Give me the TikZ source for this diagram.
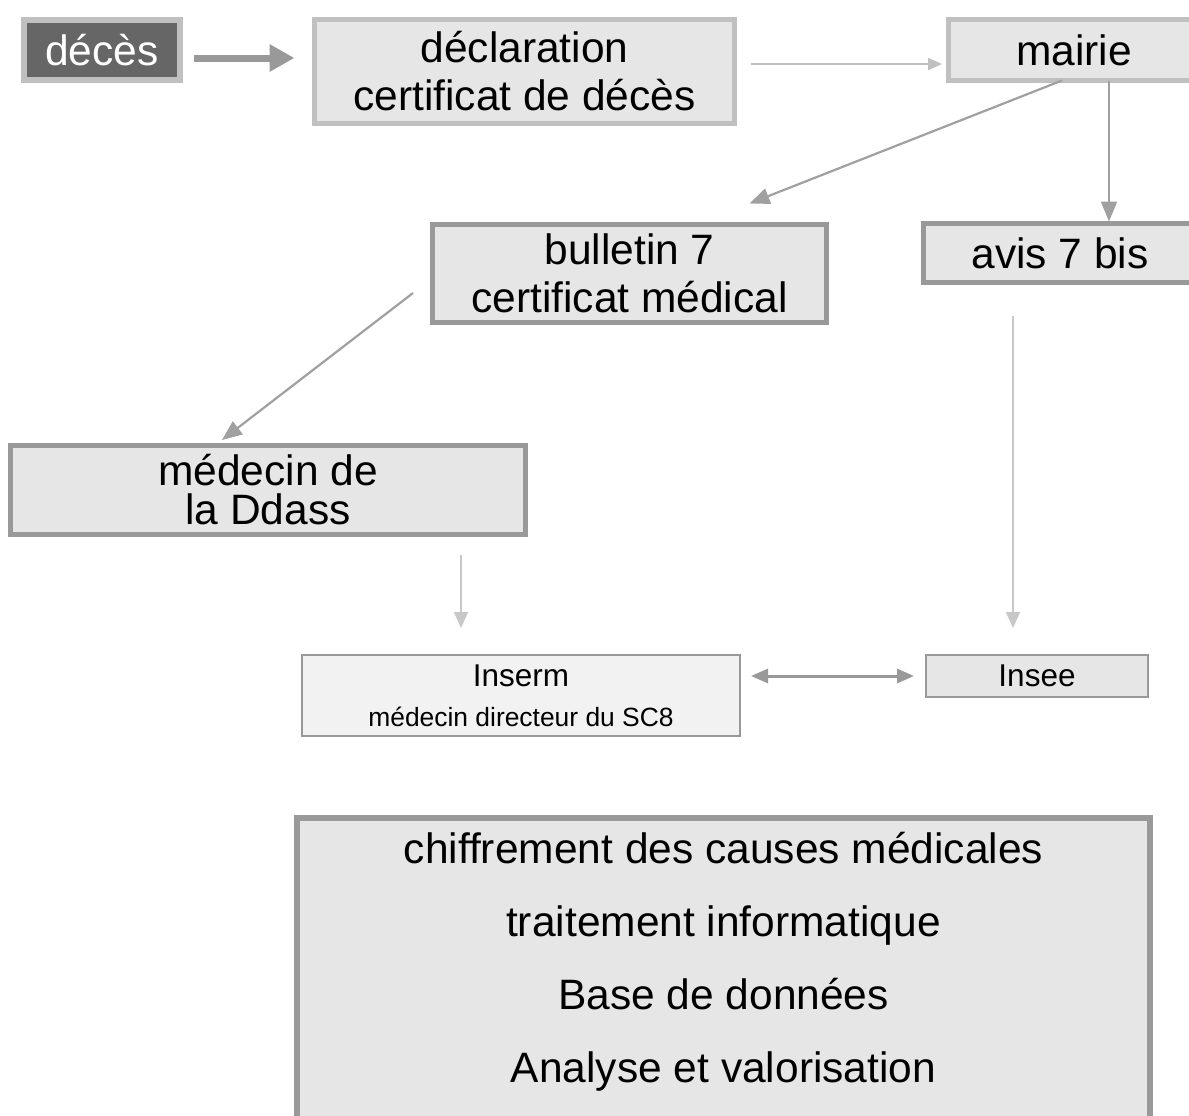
\documentclass[tikz,border=0pt]{standalone}
\usepackage{fontspec}
\setmainfont{Liberation Sans}
\usetikzlibrary{arrows.meta}
\definecolor{bdlight}{HTML}{C0C0C0}
\definecolor{bddark}{HTML}{999999}
\definecolor{boxfill}{HTML}{E6E6E6}
\definecolor{boxfilllt}{HTML}{F2F2F2}
\definecolor{darkfill}{HTML}{666666}
\definecolor{arrowmid}{HTML}{A0A0A0}
\definecolor{arrowlt}{HTML}{C8C8C8}
\begin{document}
\begin{tikzpicture}[x=0.5pt,y=-0.5pt,
  box/.style={draw, fill=boxfill, inner sep=0pt, outer sep=0pt, align=center,
    font=\fontsize{21.25}{24}\selectfont},
  lightbd/.style={draw=bdlight, line width=2.5pt},
  darkbd/.style={draw=bddark, line width=2.5pt},
  thinbd/.style={draw=bddark, line width=1pt},
  bigarrow/.style={draw=bddark, line width=3.5pt, -{Triangle[length=12.5pt,width=13pt]}},
  thinarrow/.style={draw=bdlight, line width=1pt, -{Triangle[length=7pt,width=6pt]}},
  midarrow/.style={draw=arrowmid, line width=1.1pt, -{Triangle[length=10pt,width=8pt]}},
  ltarrow/.style={draw=arrowlt, line width=0.9pt, -{Triangle[length=8pt,width=7pt]}},
  dblarrow/.style={draw=bddark, line width=1.5pt, {Triangle[length=8.5pt,width=7pt]}-{Triangle[length=8.5pt,width=7pt]}}
]
\useasboundingbox (0,0) rectangle (1189,1115);

\node[box, draw=bdlight, line width=3pt, fill=darkfill, text=white,
  minimum width=78pt, minimum height=30pt] (deces) at (102,50) {décès};
\node[box, lightbd, minimum width=210pt, minimum height=52pt] (decl) at (524.5,71.5)
  {déclaration\\certificat de décès};
\node[box, lightbd, anchor=west, minimum width=200pt, minimum height=30.5pt] (mairie) at (948.5,50)
  {\makebox[125.5pt]{mairie}\hspace*{74.5pt}};
\node[box, darkbd, anchor=west, minimum width=200pt, minimum height=29.5pt] (avis) at (923.5,253)
  {\makebox[136.5pt]{avis 7 bis}\hspace*{63.5pt}};
\node[box, darkbd, minimum width=197pt, minimum height=49pt] (bulletin) at (629.5,273.5)
  {bulletin 7\\certificat médical};
\node[box, darkbd, minimum width=257.5pt, minimum height=44.5pt,
  font=\fontsize{21.25}{19.5}\selectfont] (medecin) at (268,490) {médecin de\\la Ddass};
\node[box, thinbd, fill=boxfilllt, minimum width=219pt, minimum height=40.5pt,
  font=\fontsize{13.2}{20}\selectfont] (inserm) at (521,695.5)
  {{\fontsize{15.75}{18}\selectfont Inserm}\\médecin directeur du SC8};
\node[box, thinbd, minimum width=111pt, minimum height=21pt,
  font=\fontsize{15.75}{18}\selectfont] (insee) at (1037,676) {Insee};
\node[box, draw=bddark, line width=3pt, minimum width=426.5pt, minimum height=152pt] (bottom) at (723.5,970) {};
\node[align=center, inner sep=0pt, font=\fontsize{21.25}{36.5}\selectfont] (bottomtext) at (723.5,962)
  {chiffrement des causes médicales\\traitement informatique\\Base de données\\Analyse et valorisation};

% connectors
\draw[bigarrow, shorten <=7pt, shorten >=10pt] ([yshift=-4pt]deces.east) -- ([yshift=-4pt]deces.east -| decl.west);
\draw[thinarrow, shorten <=8.25pt, shorten >=3.25pt] ([yshift=-7pt]mairie.west -| decl.east) -- ([yshift=-7pt]mairie.west);
\draw[midarrow] ([xshift=-43.25pt]mairie.south) -- ([xshift=60pt,yshift=10.5pt]bulletin.north);
\draw[midarrow, shorten >=1pt] ([xshift=-19.75pt]mairie.south) -- ([xshift=-19.75pt]mairie.south |- avis.north);
\draw[midarrow] ([xshift=-9.75pt,yshift=-9.75pt]bulletin.west) -- ([xshift=-23pt,yshift=2.75pt]medecin.north);
\draw[ltarrow, shorten <=10.25pt, shorten >=13.5pt] ([xshift=96.5pt]medecin.south) -- ([xshift=96.5pt]medecin.south |- inserm.north);
\draw[ltarrow, shorten <=16.75pt, shorten >=13.5pt] ([xshift=-55.25pt]avis.south) -- ([xshift=-55.25pt]avis.south |- insee.north);
\draw[dblarrow, shorten <=5.5pt, shorten >=6pt] (insee.west -| inserm.east) -- (insee.west);
\end{tikzpicture}
\end{document}
